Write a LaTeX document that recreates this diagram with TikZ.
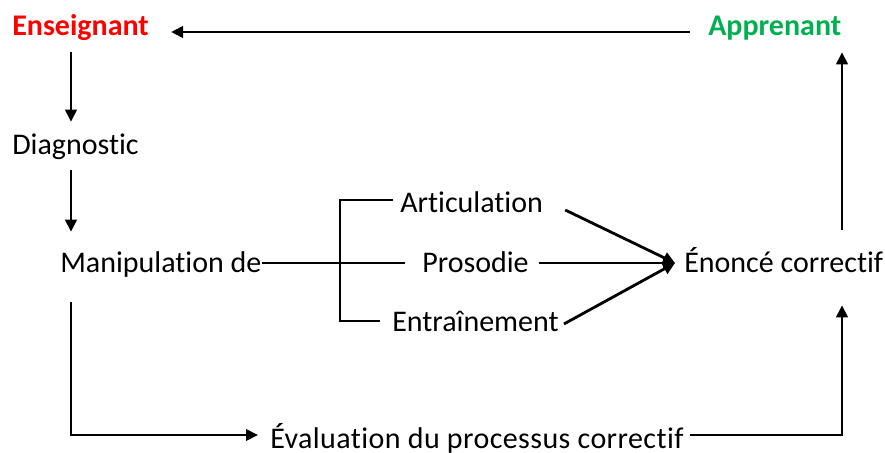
\documentclass[tikz,border=0pt]{standalone}
\usepackage{fontspec}
\setmainfont{Carlito}[Ligatures=NoCommon]
\usetikzlibrary{arrows.meta,calc}
\definecolor{ensred}{HTML}{FF0000}
\definecolor{appgreen}{HTML}{00B050}
\begin{document}
\begin{tikzpicture}[x=0.75pt,y=-0.75pt,
  lbl/.style={anchor=base west,inner sep=0pt,text height=15pt,text depth=4.5pt,font=\fontsize{22.5}{26}\selectfont},
  conn/.style={line width=2.1pt},
  arr/.style={conn,-{Triangle[length=9pt,width=8.5pt]}}]
\useasboundingbox (0,0) rectangle (885,453);
\coordinate (colL) at (71,0);
\coordinate (colR) at (842,0);
\coordinate (brk) at (340,0);
% nodes
\node[lbl,text=ensred,font=\fontsize{22.5}{26}\selectfont\bfseries] (ens) at (12,36) {Enseignant};
\node[lbl,text=appgreen,font=\fontsize{22.5}{26}\selectfont\bfseries] (app) at (708,36) {Apprenant};
\node[lbl] (diag) at (12,154) {Diagnostic};
\node[lbl] (manip) at (60,272) {Manipulation de};
\node[lbl] (artic) at (400,212) {Articulation};
\node[lbl] (pros) at (422,272) {Prosodie};
\node[lbl] (entr) at (392,331) {Entraînement};
\node[lbl] (enonce) at (684,272) {Énoncé correctif};
\node[lbl,font=\fontsize{22.5}{26}\selectfont\addfontfeature{LetterSpace=1.4}] (eval) at (270,448) {Évaluation du processus correctif};
% connectors
\draw[arr] ($(app.west)+(-18,3)$) -- ($(ens.east)+(22,3)$);
\draw[arr] ($(ens.south-|colL)+(0,10)$) -- ($(diag.north-|colL)+(0,-12)$);
\draw[arr] ($(diag.south-|colL)+(0,10)$) -- ($(manip.north-|colL)+(0,-20)$);
\draw[conn] ($(manip.east)+(0,-2)$) -- ($(pros.west)+(-17,-2)$);
\draw[conn] ($(artic.west)+(-7,-5)$) -- ($(artic.west-|brk)+(0,-5)$) -- ($(entr.west-|brk)+(0,-3)$) -- ($(entr.west)+(-12,-3)$);
\draw[arr] ($(artic.east)+(22,5)$) -- ($(enonce.west)+(-9,-2)$);
\draw[arr] ($(pros.east)+(10,-2)$) -- ($(enonce.west)+(-9,-2)$);
\draw[arr] ($(entr.east)+(5,0)$) -- ($(enonce.west)+(-9,-2)$);
\draw[arr] ($(enonce.north-|colR)+(0,-22)$) -- ($(app.south-|colR)+(0,10)$);
\draw[arr] ($(manip.south-|colL)+(0,24)$) -- ($(eval.west-|colL)+(0,-6)$) -- ($(eval.west)+(-12,-6)$);
\draw[arr] ($(eval.east)+(6,-6)$) -- ($(eval.east-|colR)+(0,-6)$) -- ($(enonce.south-|colR)+(0,27)$);
\end{tikzpicture}
\end{document}
